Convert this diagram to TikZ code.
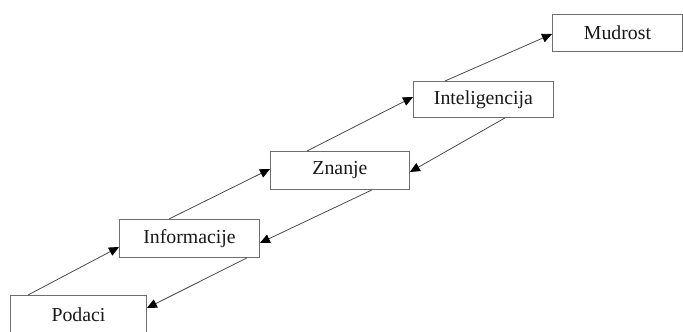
\documentclass[tikz,border=0pt]{standalone}
\usepackage{fontspec}
\setmainfont{Liberation Serif}
\usetikzlibrary{arrows.meta}
\definecolor{boxline}{HTML}{6E6E6E}
\definecolor{flowline}{HTML}{4A4A4A}
\begin{document}
\begin{tikzpicture}[x=1pt,y=-1pt,
  level/.style={draw=boxline, line width=0.9pt, fill=white, rectangle, anchor=north west,
    inner sep=0pt, text=black!90, font=\fontsize{19.8}{22}\selectfont},
  flow/.style={draw=flowline, line width=0.8pt,
    -{Triangle[length=10pt,width=9pt,color=black]}}]
  \useasboundingbox (0,0) rectangle (683,332);
  % the five levels, rising from left to right
  \node[level, minimum width=136pt, minimum height=39pt] (pod) at (10,295) {Podaci};
  \node[level, minimum width=140pt, minimum height=38pt] (inf) at (119,219) {Informacije};
  \node[level, minimum width=139pt, minimum height=38pt] (zna) at (270,151) {Znanje};
  \node[level, minimum width=140pt, minimum height=36pt] (int) at (413,81) {Inteligencija};
  \node[level, minimum width=130pt, minimum height=37pt] (mud) at (552,14) {Mudrost};
  % upward steps
  \draw[flow] ([xshift=18pt]pod.north west) -- ([yshift=-28pt]inf.north west);
  \draw[flow] ([xshift=50pt]inf.north west) -- ([yshift=-18pt]zna.north west);
  \draw[flow] ([xshift=37pt]zna.north west) -- ([yshift=-16pt]int.north west);
  \draw[flow] ([xshift=32pt]int.north west) -- ([yshift=-20pt]mud.north west);
  % feedback steps
  \draw[flow] ([xshift=128pt]inf.south west) -- ([yshift=-13pt]pod.north east);
  \draw[flow] ([xshift=102pt]zna.south west) -- ([yshift=-24pt]inf.north east);
  \draw[flow] ([xshift=92pt]int.south west) -- ([yshift=-21pt]zna.north east);
\end{tikzpicture}
\end{document}
